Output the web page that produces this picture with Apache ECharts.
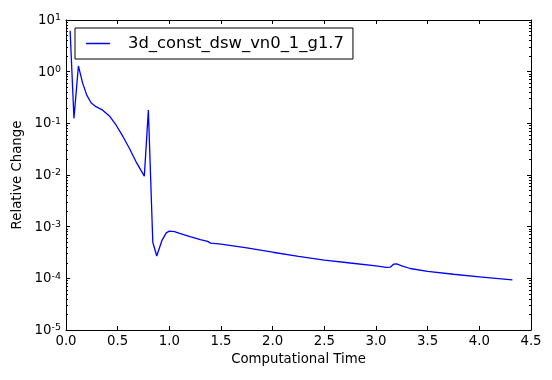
<!DOCTYPE html>
<html>
<head>
<meta charset="utf-8">
<script src="https://cdn.jsdelivr.net/npm/echarts@6/dist/echarts.min.js"></script>
<style>html,body{margin:0;padding:0;background:#fff}#c{width:552px;height:380px}</style>
</head>
<body>
<div id="c"></div>
<script>
var seriesName = '3d_const_dsw_vn0_1_g1.7';
var timeValues = [0.04, 0.077, 0.12, 0.161, 0.2, 0.242, 0.29, 0.355, 0.42, 0.484, 0.548, 0.613, 0.678, 0.758, 0.797, 0.84, 0.878, 0.93, 0.97, 1.0, 1.05, 1.1, 1.2, 1.3, 1.37, 1.4, 1.5, 1.75, 2.0, 2.25, 2.5, 2.75, 3.0, 3.1, 3.14, 3.17, 3.2, 3.25, 3.33, 3.5, 3.75, 4.0, 4.32];
var changeValues = [6.2, 0.125, 1.29, 0.6, 0.355, 0.25, 0.21, 0.18, 0.139, 0.093, 0.057, 0.033, 0.018, 0.0095, 0.18, 5.0e-4, 2.7e-4, 5.5e-4, 7.6e-4, 8.2e-4, 8.0e-4, 7.4e-4, 6.4e-4, 5.6e-4, 5.2e-4, 4.8e-4, 4.6e-4, 3.9e-4, 3.2e-4, 2.65e-4, 2.25e-4, 1.98e-4, 1.75e-4, 1.63e-4, 1.65e-4, 1.88e-4, 1.9e-4, 1.75e-4, 1.55e-4, 1.36e-4, 1.2e-4, 1.07e-4, 9.3e-5];
var xTickValues = [0, 0.5, 1, 1.5, 2, 2.5, 3, 3.5, 4, 4.5];
var yDecades = [-5, -4, -3, -2, -1, 0, 1];

var FONT = 'DejaVu Sans';
var minorTicks = [];
for (var d = -5; d < 1; d++) {
  for (var k = 2; k <= 9; k++) minorTicks.push(d + Math.log10(k));
}
var lineData = timeValues.map(function (t, i) { return [t, Math.log10(changeValues[i])]; });

function yAx(pos, showLabel, minor) {
  return {
    type: 'value', position: pos, min: -5, max: 1, interval: 1,
    axisLine: { show: !minor, onZero: false, lineStyle: { color: '#000', width: 1 } },
    axisTick: minor ? { show: true, inside: true, length: 2, customValues: minorTicks, lineStyle: { color: '#000' } }
                    : { show: true, inside: true, length: 4, lineStyle: { color: '#000' } },
    splitLine: { show: false },
    axisLabel: {
      show: showLabel, margin: 5,
      formatter: function (v) { return '{a|10}{b|' + Math.round(v) + '}'; },
      rich: {
        a: { fontFamily: FONT, fontSize: 13.3, color: '#000', lineHeight: 14, verticalAlign: 'bottom' },
        b: { fontFamily: FONT, fontSize: 9.5, color: '#000', lineHeight: 10, verticalAlign: 'top' }
      }
    },
    name: (pos === 'left' && showLabel) ? 'Relative Change' : '',
    nameLocation: 'middle', nameGap: 41,
    nameTextStyle: { fontFamily: FONT, fontSize: 13.3, color: '#000' }
  };
}

var chart = echarts.init(document.getElementById('c'));
chart.setOption({
  animation: false,
  backgroundColor: '#fff',
  grid: { left: 66, right: 21, top: 20, bottom: 50 },
  legend: {
    data: [{ name: seriesName, icon: 'rect' }], left: 75, top: 28,
    orient: 'vertical',
    backgroundColor: '#fff', borderColor: '#000', borderWidth: 1, borderRadius: 0,
    padding: [6, 9, 6, 11],
    itemWidth: 24, itemHeight: 1.5,
    itemStyle: { color: '#0000ff' },
    textStyle: { fontFamily: FONT, fontSize: 16.4, color: '#000', padding: [0, 0, 0, 13], lineHeight: 19 }
  },
  xAxis: [{
    type: 'value', position: 'bottom', min: 0, max: 4.5, interval: 0.5,
    axisLine: { onZero: false, lineStyle: { color: '#000', width: 1 } },
    axisTick: { inside: true, length: 4, lineStyle: { color: '#000' } },
    splitLine: { show: false },
    axisLabel: { fontFamily: FONT, fontSize: 13.3, color: '#000', margin: 5,
      formatter: function (v) { return v.toFixed(1); } },
    name: 'Computational Time', nameLocation: 'middle', nameGap: 23,
    nameTextStyle: { fontFamily: FONT, fontSize: 13.3, color: '#000' }
  }, {
    type: 'value', position: 'top', min: 0, max: 4.5, interval: 0.5,
    axisLine: { onZero: false, lineStyle: { color: '#000', width: 1 } },
    axisTick: { inside: true, length: 4, lineStyle: { color: '#000' } },
    splitLine: { show: false },
    axisLabel: { show: false }
  }],
  yAxis: [yAx('left', true, false), yAx('left', false, true), yAx('right', false, false), yAx('right', false, true)],
  series: [{
    name: seriesName, type: 'line', data: lineData,
    xAxisIndex: 0, yAxisIndex: 0,
    symbol: 'none', showSymbol: false,
    lineStyle: { color: '#0000ff', width: 1.3 },
    itemStyle: { color: '#0000ff' }
  }]
});
</script>
</body>
</html>
